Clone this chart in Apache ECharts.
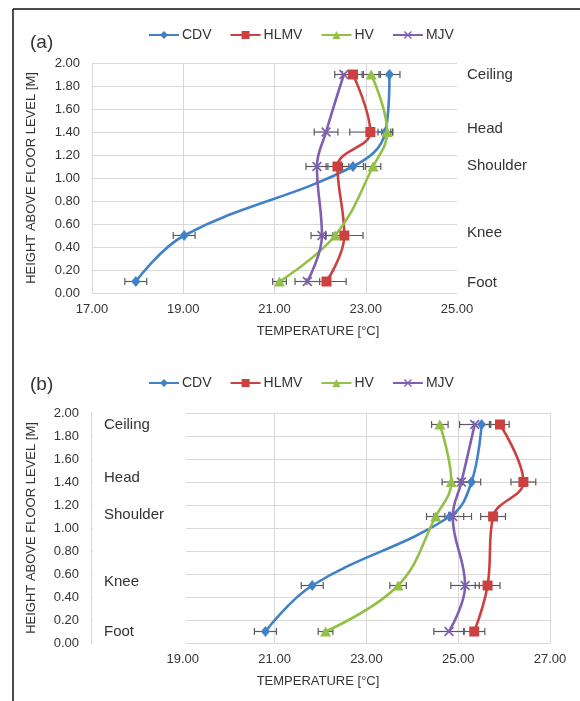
<!DOCTYPE html>
<html>
<head>
<meta charset="utf-8">
<script src="https://cdn.jsdelivr.net/npm/echarts@6/dist/echarts.min.js"></script>
<style>
  html, body { margin: 0; padding: 0; background: #fff; }
  #chart { width: 580px; height: 701px; }
</style>
</head>
<body>
<div id="chart"></div>
<script>
// Measurement heights (m): foot, knee, shoulder, head, ceiling
const heights = [0.1, 0.5, 1.1, 1.4, 1.9];
const seriesNames = ['CDV', 'HLMV', 'HV', 'MJV'];
const levelNames = ['Foot', 'Knee', 'Shoulder', 'Head', 'Ceiling'];
const yTicks = ['0.00', '0.20', '0.40', '0.60', '0.80', '1.00', '1.20', '1.40', '1.60', '1.80', '2.00'];
const xTicksA = ['17.00', '19.00', '21.00', '23.00', '25.00'];
const xTicksB = ['19.00', '21.00', '23.00', '25.00', '27.00'];

// Case (a): mean temperatures (°C) and standard deviations
const cdvA  = [17.96, 19.02, 22.72, 23.43, 23.52];
const hlmvA = [22.14, 22.53, 22.38, 23.10, 22.72];
const hvA   = [21.11, 22.33, 23.16, 23.47, 23.12];
const mjvA  = [21.72, 22.04, 21.93, 22.13, 22.52];
const cdvAErr  = [0.24, 0.24, 0.23, 0.16, 0.23];
const hlmvAErr = [0.43, 0.41, 0.25, 0.45, 0.23];
const hvAErr   = [0.15, 0.20, 0.17, 0.12, 0.20];
const mjvAErr  = [0.27, 0.24, 0.24, 0.26, 0.20];

// Case (b)
const cdvB  = [20.80, 21.82, 24.82, 25.29, 25.51];
const hlmvB = [25.35, 25.64, 25.76, 26.42, 25.91];
const hvB   = [22.11, 23.69, 24.51, 24.85, 24.60];
const mjvB  = [24.80, 25.15, 24.88, 25.07, 25.36];
const cdvBErr  = [0.24, 0.24, 0.30, 0.20, 0.17];
const hlmvBErr = [0.23, 0.27, 0.27, 0.27, 0.20];
const hvBErr   = [0.16, 0.18, 0.20, 0.20, 0.18];
const mjvBErr  = [0.33, 0.31, 0.41, 0.20, 0.33];

const FONT = "'Liberation Sans', Arial, sans-serif";
const TEXT = '#333333';
const GRIDC = '#d9d9d9';
const colors = ['#4181c8', '#cc4140', '#93c047', '#7f5fb0'];
const xMark = 'path://M0,1.2 L1.2,0 L5,3.8 L8.8,0 L10,1.2 L6.2,5 L10,8.8 L8.8,10 L5,6.2 L1.2,10 L0,8.8 L3.8,5 Z';
const symbols = ['diamond', 'rect', 'triangle', xMark];
const symbolSizes = [[9, 11], 10, [11, 10], 10];

const panels = [
  { vals: [cdvA, hlmvA, hvA, mjvA], errs: [cdvAErr, hlmvAErr, hvAErr, mjvAErr], ticks: xTicksA },
  { vals: [cdvB, hlmvB, hvB, mjvB], errs: [cdvBErr, hlmvBErr, hvBErr, mjvBErr], ticks: xTicksB }
];

const chart = echarts.init(document.getElementById('chart'), null, { renderer: 'canvas' });

const grids = [
  { left: 92, top: 63, width: 365, height: 230 },
  { left: 91, top: 413, width: 459, height: 230 }
];

const xAxes = [
  { min: 17, max: 25, showMax: false },
  { min: 17, max: 27, showMax: true }
].map((a, i) => ({
  type: 'value', gridIndex: i, min: a.min, max: a.max, interval: 2,
  axisLine: { show: false }, axisTick: { show: false },
  splitLine: { show: true, showMaxLine: a.showMax, lineStyle: { color: GRIDC, width: 1 } },
  axisLabel: {
    margin: 10, color: TEXT, fontFamily: FONT, fontSize: 13,
    formatter: v => { const s = v.toFixed(2); return panels[i].ticks.includes(s) ? s : ''; }
  }
}));

const yAxes = [0, 1].map(i => ({
  type: 'value', gridIndex: i, min: 0, max: 2, interval: 0.2,
  name: 'HEIGHT ABOVE FLOOR LEVEL [M]', nameLocation: 'middle', nameRotate: 90,
  nameGap: i === 0 ? 54 : 53,
  nameTextStyle: { color: TEXT, fontFamily: FONT, fontSize: 13 },
  axisLine: { show: true, lineStyle: { color: GRIDC, width: 1 } },
  axisTick: { show: false },
  splitLine: { show: true, lineStyle: { color: GRIDC, width: 1 } },
  axisLabel: {
    margin: 12, color: TEXT, fontFamily: FONT, fontSize: 13,
    formatter: v => { const s = v.toFixed(2); return yTicks.includes(s) ? s : ''; }
  }
}));

const series = [];
panels.forEach((p, pi) => {
  // error bars: horizontal whiskers with end caps
  p.vals.forEach((vals, si) => {
    series.push({
      type: 'custom', name: seriesNames[si] + ' sd', xAxisIndex: pi, yAxisIndex: pi, z: 2,
      silent: true,
      data: vals.map((v, k) => [v, heights[k], p.errs[si][k]]),
      encode: { x: 0, y: 1 },
      renderItem: (params, api) => {
        const x = api.value(0), y = api.value(1), e = api.value(2);
        const a = api.coord([x - e, y]), b = api.coord([x + e, y]);
        const st = { stroke: '#5a5a5a', lineWidth: 1.2 };
        return {
          type: 'group', children: [
            { type: 'line', shape: { x1: a[0], y1: a[1], x2: b[0], y2: b[1] }, style: st },
            { type: 'line', shape: { x1: a[0], y1: a[1] - 3.5, x2: a[0], y2: a[1] + 3.5 }, style: st },
            { type: 'line', shape: { x1: b[0], y1: b[1] - 3.5, x2: b[0], y2: b[1] + 3.5 }, style: st }
          ]
        };
      }
    });
  });
  p.vals.forEach((vals, si) => {
    series.push({
      type: 'line', name: seriesNames[si], xAxisIndex: pi, yAxisIndex: pi, z: 3 + si,
      data: vals.map((v, k) => [v, heights[k]]),
      smooth: 0.4,
      symbol: symbols[si], symbolSize: symbolSizes[si], showAllSymbol: true,
      lineStyle: { color: colors[si], width: 2.6 },
      itemStyle: { color: colors[si], borderWidth: 0 },
      emphasis: { disabled: true }
    });
  });
});

const legendBase = {
  data: seriesNames, left: 148, padding: 0, itemWidth: 30, itemHeight: 10, itemGap: 18,
  textStyle: { color: TEXT, fontFamily: FONT, fontSize: 14, padding: [0, 0, 0, -2] },
  selectedMode: false
};

const txt = (x, y, s, size, align) => ({
  type: 'text', x: x, y: y, silent: true, z: 100,
  style: { text: s, fill: TEXT, font: size + 'px ' + FONT, textAlign: align || 'left', textVerticalAlign: 'middle' }
});

const levelY_A = [283, 233, 166, 129, 75];
const levelY_B = [632, 582, 515, 478, 425];

const graphics = [
  // figure frame
  { type: 'line', shape: { x1: 13, y1: 9, x2: 580, y2: 9 }, style: { stroke: '#111', lineWidth: 1.5 }, z: 100 },
  { type: 'line', shape: { x1: 13, y1: 9, x2: 13, y2: 701 }, style: { stroke: '#111', lineWidth: 1.5 }, z: 100 },
  // box holding the body-level labels of panel (b)
  { type: 'rect', shape: { x: 93, y: 405, width: 93, height: 242 }, style: { fill: '#fff' }, z: 50, silent: true },
  txt(30, 43, '(a)', 19),
  txt(30, 385, '(b)', 19),
  txt(318, 331, 'TEMPERATURE [°C]', 13, 'center'),
  txt(318, 681, 'TEMPERATURE [°C]', 13, 'center')
];
levelNames.forEach((n, k) => {
  graphics.push(txt(467, levelY_A[k], n, 15));
  graphics.push(txt(104, levelY_B[k], n, 15));
});

chart.setOption({
  animation: false,
  backgroundColor: '#fff',
  grid: grids,
  xAxis: xAxes,
  yAxis: yAxes,
  legend: [
    Object.assign({ top: 28 }, legendBase),
    Object.assign({ top: 376 }, legendBase)
  ],
  series: series,
  graphic: graphics
});
</script>
</body>
</html>
